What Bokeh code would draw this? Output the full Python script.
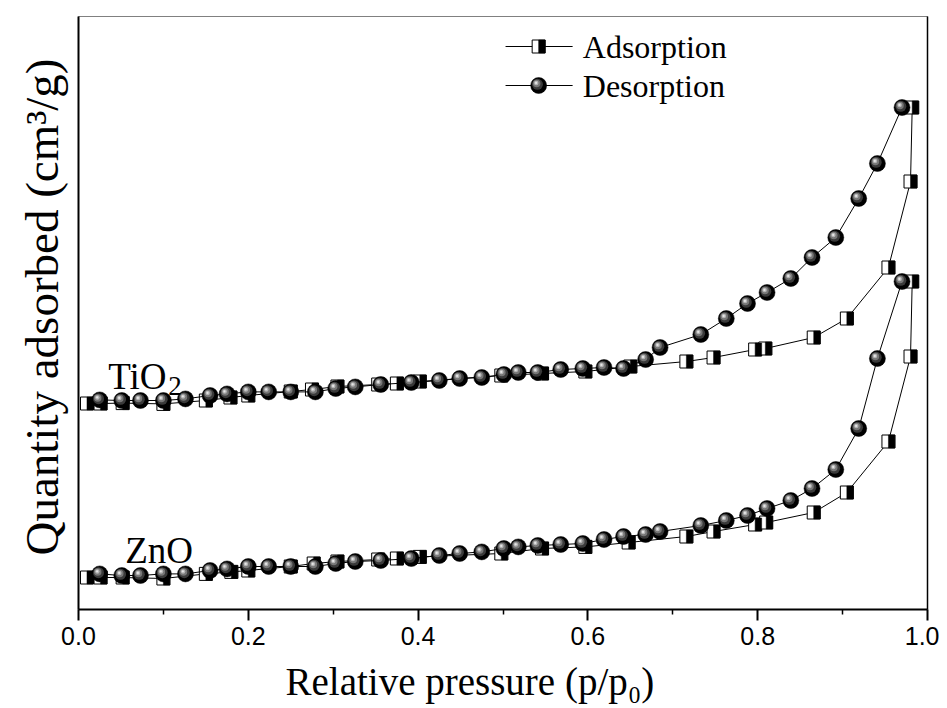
import math
from bokeh.plotting import figure
from bokeh.models import Range1d, LinearAxis, Label, FixedTicker, PrintfTickFormatter, Title
from bokeh.embed import file_html
from bokeh.resources import INLINE

# ---------------- data (relative pressure, quantity adsorbed in arbitrary units) -------------
tio2_ads_x = [0.010, 0.026, 0.052, 0.100, 0.150, 0.179, 0.200, 0.250, 0.275, 0.305, 0.353, 0.375,
              0.402, 0.498, 0.546, 0.597, 0.650, 0.716, 0.748, 0.797, 0.809, 0.866, 0.905, 0.954,
              0.980, 0.982]
tio2_ads_q = [103.0, 103.0, 103.2, 102.8, 104.5, 106.0, 107.0, 109.0, 110.0, 111.5, 112.5, 113.0,
              114.0, 117.0, 118.0, 119.0, 121.5, 124.0, 126.0, 130.0, 130.5, 136.0, 145.5, 171.0,
              214.0, 251.0]

tio2_des_x = [0.970, 0.941, 0.919, 0.892, 0.864, 0.839, 0.811, 0.788, 0.763, 0.733, 0.685, 0.668,
              0.642, 0.619, 0.594, 0.568, 0.541, 0.518, 0.501, 0.475, 0.449, 0.425, 0.392, 0.356,
              0.326, 0.303, 0.279, 0.250, 0.224, 0.200, 0.175, 0.155, 0.126, 0.100, 0.073, 0.051,
              0.025]
tio2_des_q = [251.0, 223.0, 205.5, 186.0, 176.0, 165.5, 158.5, 153.0, 145.5, 137.5, 131.0, 125.0,
              120.5, 121.0, 120.5, 120.0, 118.5, 118.5, 117.5, 116.0, 115.5, 114.5, 113.5, 112.5,
              111.3, 110.5, 108.8, 108.8, 108.8, 108.8, 107.8, 107.0, 105.3, 104.5, 104.5, 104.5,
              104.8]

zno_ads_x = [0.010, 0.026, 0.052, 0.100, 0.150, 0.180, 0.200, 0.250, 0.277, 0.305, 0.353, 0.375,
             0.402, 0.498, 0.546, 0.597, 0.648, 0.716, 0.748, 0.797, 0.810, 0.866, 0.905, 0.954,
             0.980, 0.982]
zno_ads_q = [16.0, 16.0, 16.0, 15.5, 17.8, 18.8, 19.5, 21.5, 23.0, 24.0, 25.0, 25.5,
             26.3, 28.0, 30.5, 31.3, 33.5, 36.5, 39.0, 42.5, 43.5, 48.5, 58.5, 84.0,
             126.5, 164.0]

zno_des_x = tio2_des_x
zno_des_q = [164.0, 125.5, 90.5, 70.0, 60.5, 54.5, 50.5, 47.0, 44.5, 42.0, 39.0, 37.5,
             36.5, 35.0, 33.0, 32.5, 32.0, 31.3, 30.5, 28.8, 28.0, 27.0, 25.5, 24.5,
             24.0, 23.0, 21.5, 21.5, 21.5, 21.5, 20.3, 19.5, 17.8, 17.8, 17.0, 17.0,
             17.8]

x_ticks = [0.0, 0.2, 0.4, 0.6, 0.8, 1.0]
x_minor = [0.1, 0.3, 0.5, 0.7, 0.9]

series_names = ["Adsorption", "Desorption"]
sample_names = ["TiO", "ZnO"]
x_title = "Relative pressure (p/p\u2080)"
y_title = "Quantity adsorbed (cm\u00b3/g)"

# ---------------- layout constants ----------------
FRAME_W, FRAME_H = 849, 593
Y_MAX = 296.5
XPX = 1.0 / FRAME_W          # data units per screen pixel (x)
YPX = Y_MAX / FRAME_H        # data units per screen pixel (y)

SERIF = "Liberation Serif"
SANS = "Liberation Sans"

p = figure(frame_width=FRAME_W, frame_height=FRAME_H,
           x_range=Range1d(0, 1), y_range=Range1d(0, Y_MAX),
           output_backend="svg", toolbar_location=None,
           min_border_left=78, min_border_right=12, min_border_top=16, min_border_bottom=90)
p.xgrid.visible = False
p.ygrid.visible = False
p.outline_line_color = "#808080"
p.outline_line_width = 1
p.background_fill_color = "white"
p.border_fill_color = "white"

xa = p.xaxis[0]
xa.ticker = FixedTicker(ticks=x_ticks, minor_ticks=x_minor)
xa.formatter = PrintfTickFormatter(format="%.1f")
xa.axis_line_color = "black"
xa.axis_line_width = 2
xa.major_tick_in = 0
xa.major_tick_out = 11
xa.minor_tick_in = 0
xa.minor_tick_out = 5
xa.major_tick_line_width = 2
xa.minor_tick_line_width = 1.5
xa.major_label_text_font = SANS
xa.major_label_text_font_size = "25px"
xa.major_label_text_color = "black"
xa.major_label_standoff = 6

p.add_layout(Title(text=x_title, align="left", offset=207, standoff=21,
                   text_font=SERIF, text_font_size="39px", text_font_style="normal",
                   text_color="black"), "below")

ya = p.yaxis[0]
ya.ticker = FixedTicker(ticks=[])
ya.axis_line_color = "black"
ya.axis_line_width = 2
ya.major_tick_line_color = None
ya.minor_tick_line_color = None
ya.major_label_text_font_size = "0px"
ya.major_label_standoff = 0

p.add_layout(Title(text=y_title, align="left", offset=54, standoff=22,
                   text_font=SERIF, text_font_size="47px", text_font_style="normal",
                   text_color="black"), "left")

ra = LinearAxis(ticker=FixedTicker(ticks=[]), axis_line_color="black", axis_line_width=1.5,
                major_tick_line_color=None, minor_tick_line_color=None,
                major_label_text_font_size="0px")
p.add_layout(ra, "right")


def draw_ads(xs, qs):
    p.line(xs, qs, line_color="black", line_width=1)
    p.scatter(xs, qs, marker="square", size=13, fill_color="white",
              line_color="black", line_width=1)
    p.rect([x + 3.25 * XPX for x in xs], qs, width=6.5, height=13,
           width_units="screen", height_units="screen",
           fill_color="black", line_color="black", line_width=0.5)


def draw_balls(xs, qs):
    p.scatter(xs, qs, marker="circle", size=16, fill_color="black", line_color="black",
              line_width=0.5)
    for size, dx, dy, col in [(11, -1.2, 1.2, "#3a3a3a"), (7.5, -2.0, 2.0, "#777777"),
                              (4.5, -2.4, 2.4, "#b5b5b5"), (2.2, -2.6, 2.6, "#e6e6e6")]:
        p.scatter([x + dx * XPX for x in xs], [q + dy * YPX for q in qs], marker="circle",
                  size=size, fill_color=col, line_color=None)


def draw_des(xs, qs):
    p.line(xs, qs, line_color="black", line_width=1)
    draw_balls(xs, qs)


draw_ads(tio2_ads_x, tio2_ads_q)
draw_des(tio2_des_x, tio2_des_q)
draw_ads(zno_ads_x, zno_ads_q)
draw_des(zno_des_x, zno_des_q)

# ---------------- legend (drawn by hand, placed as fractions of the frame) ----------------
LX0, LX1, LXM, LTX = 0.503, 0.582, 0.542, 0.594
LY1, LY2 = 281.5, 262.0
p.line([LX0, LX1], [LY1, LY1], line_color="black", line_width=1)
p.scatter([LXM], [LY1], marker="square", size=13, fill_color="white", line_color="black", line_width=1)
p.rect([LXM + 3.25 * XPX], [LY1], width=6.5, height=13, width_units="screen",
       height_units="screen", fill_color="black", line_color="black", line_width=0.5)
p.line([LX0, LX1], [LY2, LY2], line_color="black", line_width=1)
draw_balls([LXM], [LY2])
for txt, yy in zip(series_names, [LY1, LY2]):
    p.add_layout(Label(x=LTX, y=yy, text=txt, text_font=SERIF, text_font_size="32px",
                       text_baseline="middle", text_align="left", text_color="black"))

# ---------------- sample labels ----------------
p.add_layout(Label(x=0.035, y=116.5, text=sample_names[0], text_font=SERIF, text_font_size="37px",
                   text_baseline="alphabetic", text_color="black"))
p.add_layout(Label(x=0.035, y=116.5, x_offset=60, y_offset=-9, text="2", text_font=SERIF,
                   text_font_size="27px", text_baseline="alphabetic", text_color="black"))
p.add_layout(Label(x=0.055, y=29.5, text=sample_names[1], text_font=SERIF, text_font_size="37px",
                   text_baseline="alphabetic", text_color="black"))

open("out.html", "w").write(file_html(p, INLINE))
